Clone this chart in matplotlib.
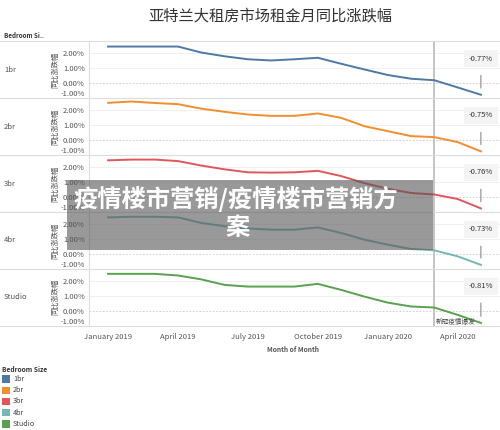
import numpy as np
import matplotlib
matplotlib.use("Agg")
from matplotlib import pyplot as plt
from matplotlib.lines import Line2D
from matplotlib.patches import Rectangle

plt.rcParams['font.family'] = ['Noto Sans CJK SC', 'DejaVu Sans']

# monthly data, Jan 2019 .. May 2020
months = list(range(17))
tick_pos = [0, 3, 6, 9, 12, 15]
tick_labels = ['January 2019', 'April 2019', 'July 2019', 'October 2019',
               'January 2020', 'April 2020']

sizes = ['1br', '2br', '3br', '4br', 'Studio']
colors = ['#4E79A7', '#F28E2B', '#E15759', '#76B7B2', '#59A14F']

v_1br = [2.45, 2.45, 2.45, 2.45, 2.05, 1.80, 1.60, 1.52, 1.60, 1.70, 1.30, 0.92, 0.55, 0.30, 0.20, -0.28, -0.77]
v_2br = [2.49, 2.58, 2.48, 2.40, 2.10, 1.89, 1.71, 1.62, 1.62, 1.78, 1.49, 0.93, 0.60, 0.27, 0.20, -0.13, -0.75]
v_3br = [2.45, 2.50, 2.50, 2.40, 2.10, 1.85, 1.65, 1.63, 1.65, 1.75, 1.40, 0.93, 0.55, 0.27, 0.17, -0.13, -0.76]
v_4br = [2.44, 2.48, 2.48, 2.44, 2.07, 1.85, 1.70, 1.62, 1.62, 1.77, 1.40, 0.95, 0.62, 0.33, 0.24, -0.16, -0.73]
v_studio = [2.47, 2.47, 2.47, 2.36, 2.10, 1.73, 1.62, 1.62, 1.62, 1.80, 1.40, 0.95, 0.55, 0.29, 0.22, -0.27, -0.81]
series = [v_1br, v_2br, v_3br, v_4br, v_studio]
last_labels = ['-0.77%', '-0.75%', '-0.76%', '-0.73%', '-0.81%']

covid_idx = 14  # March 2020

W, H = 500, 430
fig = plt.figure(figsize=(5, 4.3), dpi=100)


def fx(x):
    return x / W


def fy(y):
    return 1 - y / H


left_px, right_px = 89, 500
top0, ph = 41.3, 56.9
xlim = (-0.82, 16.82)
ylim = (-1.0, 2.8)

fig.text(fx(270), fy(16), '亚特兰大租房市场租金月同比涨跌幅', fontsize=11,
         color='#333333', ha='center', va='center')
fig.text(fx(4), fy(36), 'Bedroom Si..', fontsize=4.5, fontweight='bold',
         color='#333333', ha='left', va='center')

axes = []
for i, name in enumerate(sizes):
    top = top0 + i * ph
    ax = fig.add_axes([fx(left_px), fy(top + ph), fx(right_px - left_px), ph / H])
    ax.set_xlim(*xlim)
    ax.set_ylim(*ylim)
    for g in [1, 2]:
        ax.axhline(g, color='#eeeeee', lw=0.6, zorder=0)
    ax.axhline(0, color='#c8c8c8', lw=0.6, ls=(0, (2, 2)), zorder=0)
    ax.axvline(covid_idx, color='#c4c4c4', lw=1.4, zorder=1)
    ax.plot(months, series[i], color=colors[i], lw=1.4, zorder=3)
    for s in ax.spines.values():
        s.set_visible(False)
    ax.set_yticks([-1, 0, 1, 2])
    ax.set_yticklabels(['-1.00%', '0.00%', '1.00%', '2.00%'])
    ax.tick_params(axis='y', length=0, labelsize=5.5, labelcolor='#555555', pad=3)
    ax.get_yticklabels()[0].set_va('bottom')
    ax.set_xticks(tick_pos)
    if i < len(sizes) - 1:
        ax.set_xticklabels([])
    else:
        ax.set_xticklabels(tick_labels)
    ax.tick_params(axis='x', length=0, labelsize=5.5, labelcolor='#555555', pad=5)
    ax.patch.set_alpha(0)

    # row header and y label
    fig.text(fx(4), fy(top + ph / 2), name, fontsize=5.5, color='#555555',
             ha='left', va='center')
    fig.text(fx(55), fy(top + ph / 2), '同比涨跌幅', fontsize=5.2, color='#555555',
             rotation=90, ha='center', va='center')

    # end-value annotation with leader
    lx = months[-1]
    ax.annotate(last_labels[i], xy=(lx, series[i][-1] + 0.45),
                xytext=(lx, 1.65), textcoords='data', fontsize=5.5,
                color='#333333', ha='center', va='center',
                bbox=dict(boxstyle='square,pad=0.6', fc='#f4f4f4', ec='none'),
                arrowprops=dict(arrowstyle='-', color='#888888', lw=0.8,
                                shrinkA=6, shrinkB=0))
    axes.append(ax)

# row separators and left axis line
for i in range(len(sizes) + 1):
    y = top0 + i * ph
    fig.add_artist(Line2D([0, 1], [fy(y), fy(y)], color='#dddddd', lw=0.8))
fig.add_artist(Line2D([fx(left_px), fx(left_px)], [fy(top0), fy(top0 + 5 * ph)],
                      color='#dddddd', lw=0.8))

axes[-1].text(covid_idx + 0.05, -0.72, '新冠疫情爆发', fontsize=4.8,
              color='#444444', ha='left', va='center', zorder=4)

fig.text(fx(293), fy(349), 'Month of Month', fontsize=4.8, fontweight='bold',
         color='#555555', ha='center', va='center')

# legend
fig.text(fx(2), fy(369), 'Bedroom Size', fontsize=4.8, fontweight='bold',
         color='#333333', ha='left', va='center')
for i, name in enumerate(sizes):
    y = 379 + i * 11.2
    fig.add_artist(Rectangle((fx(2), fy(y + 3.8)), 7.5 / W, 7.5 / H,
                             transform=fig.transFigure, fc=colors[i], ec='none'))
    fig.text(fx(13), fy(y), name, fontsize=5.2, color='#444444',
             ha='left', va='center')

# watermark overlay
fig.add_artist(Rectangle((fx(67), fy(250)), (433 - 67) / W, 70 / H,
                         transform=fig.transFigure, fc='#555555', ec='none',
                         alpha=0.6, zorder=10))
fig.text(fx(236), fy(199), '疫情楼市营销/疫情楼市营销方', fontsize=17.5,
         fontweight='black', color='white', ha='center', va='center', zorder=11)
fig.text(fx(238), fy(228), '案', fontsize=17.5, fontweight='black',
         color='white', ha='center', va='center', zorder=11)

fig.savefig('out.png', dpi=100)
